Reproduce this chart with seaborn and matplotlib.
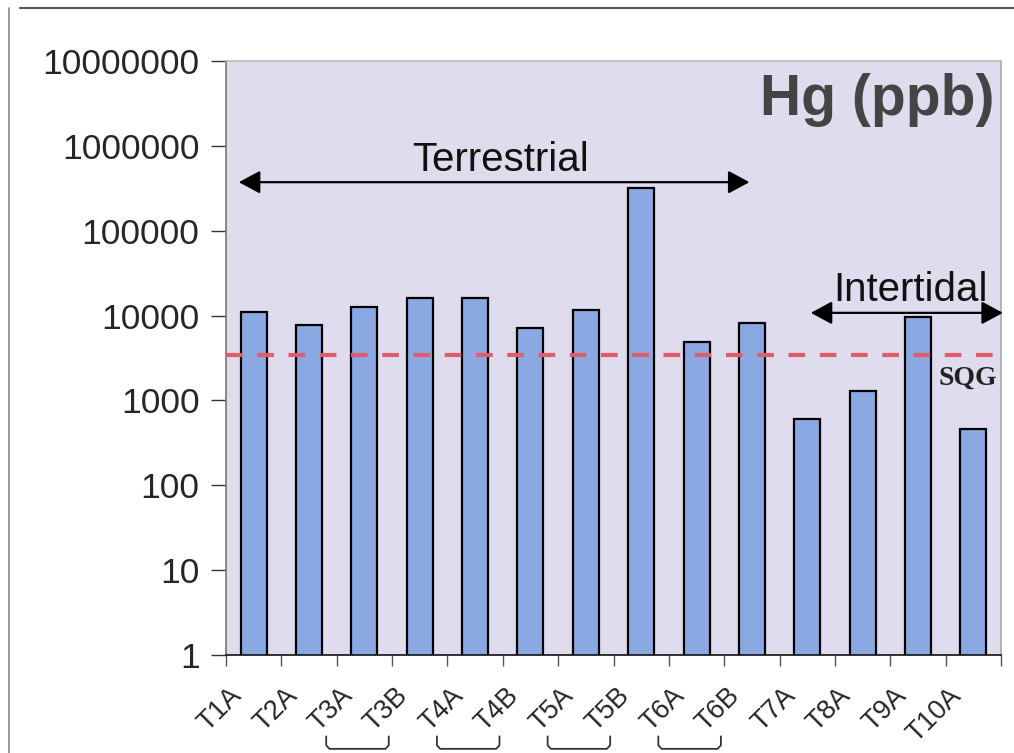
import numpy as np
import pandas as pd
import matplotlib
matplotlib.use("Agg")
import matplotlib.pyplot as plt
import seaborn as sns
from matplotlib.lines import Line2D
import matplotlib.transforms as mtransforms

# ---- data ----
sites = ["T1A", "T2A", "T3A", "T3B", "T4A", "T4B", "T5A", "T5B",
         "T6A", "T6B", "T7A", "T8A", "T9A", "T10A"]
hg_ppb = [11000, 7700, 12500, 16300, 16300, 7150, 11500, 320000,
          4850, 8200, 610, 1280, 9500, 455]
sqg_value = 3400
y_ticks = [1, 10, 100, 1000, 10000, 100000, 1000000, 10000000]
paired = [("T3A", "T3B"), ("T4A", "T4B"), ("T5A", "T5B"), ("T6A", "T6B")]

df = pd.DataFrame({"site": sites, "hg": hg_ppb})

sns.set_theme(style="white")
plt.rcParams["font.family"] = ["Liberation Sans", "DejaVu Sans"]

fig = plt.figure(figsize=(10.14, 7.53), dpi=100)
ax = fig.add_axes([226/1014, 1-655/753, 775/1014, 594/753])
ax.set_facecolor("#dedced")

sns.barplot(data=df, x="site", y="hg", ax=ax, color="#8aa9e3",
            width=0.47, edgecolor="black", linewidth=1.6, saturation=1)
for p in ax.patches:
    p.set_facecolor("#8aa9e3")
ax.set_yscale("log")
ax.set_ylim(1, 1e7)
ax.set_xlim(-0.5, len(sites) - 0.5)
ax.set_yticks(y_ticks)
ax.set_yticklabels([str(v) for v in y_ticks], fontsize=25.5)
ax.yaxis.set_minor_locator(matplotlib.ticker.NullLocator())
ax.tick_params(axis="y", which="major", left=True, length=11, width=1,
               color="#333333", pad=8)
ax.set_xlabel("")
ax.set_ylabel("")

# x ticks: boundary ticks + labels
ax.set_xticks(np.arange(len(sites)))
ax.set_xticklabels(sites, fontsize=19.5, rotation=45, ha="right",
                   rotation_mode="anchor", va="top")
ax.tick_params(axis="x", which="major", length=0, pad=20)
offset = mtransforms.ScaledTranslation(-25/100, 0, fig.dpi_scale_trans)
for lab in ax.get_xticklabels():
    lab.set_transform(lab.get_transform() + offset)
ax.set_xticks(np.arange(len(sites) + 1) - 0.5, minor=True)
ax.tick_params(axis="x", which="minor", bottom=True, length=8, width=1,
               color="#555555")

for side, col in [("left", "#777777"), ("bottom", "#111111"),
                  ("top", "#bbbbbb"), ("right", "#aaaaaa")]:
    ax.spines[side].set_color(col)
    ax.spines[side].set_linewidth(1.2)

# SQG line
ax.axhline(sqg_value, color="#e05c6a", linestyle=(0, (4, 3.5)), linewidth=3,
           zorder=3)
ax.text(0.957, 0.466, "SQG", transform=ax.transAxes, ha="center",
        va="center", fontsize=20, fontweight="bold",
        family=["Liberation Serif", "DejaVu Serif"], color="#222222")

# Title
ax.text(0.992, 0.934, "Hg (ppb)", transform=ax.transAxes, ha="right",
        va="center", fontsize=41, fontweight="bold", color="#444444")

# Arrows
arrow_kw = dict(arrowstyle="<|-|>,head_length=0.65,head_width=0.35",
                color="black", lw=1.6, mutation_scale=20)
ax.annotate("", xy=(0.013, 0.796), xytext=(0.679, 0.796),
            xycoords="axes fraction", textcoords="axes fraction",
            arrowprops=arrow_kw, annotation_clip=False)
ax.text(0.354, 0.833, "Terrestrial", transform=ax.transAxes, ha="center",
        va="center", fontsize=29, color="#111111")
ax.annotate("", xy=(0.751, 0.576), xytext=(1.006, 0.576),
            xycoords="axes fraction", textcoords="axes fraction",
            arrowprops=arrow_kw, annotation_clip=False)
ax.text(0.883, 0.614, "Intertidal", transform=ax.transAxes, ha="center",
        va="center", fontsize=29, color="#111111")

# brackets under paired labels
trans = mtransforms.blended_transform_factory(ax.transData, ax.transAxes)
for a, b in paired:
    i, j = sites.index(a), sites.index(b)
    x0, x1 = i - 0.69, j - 0.56
    yt, yb = -0.137, -0.158
    r = 0.06
    xs = [x0, x0, x0 + r, x1 - r, x1, x1]
    ys = [yt, yb + 0.006, yb, yb, yb + 0.006, yt]
    ax.plot(xs, ys, transform=trans, color="#333333", lw=1.3,
            clip_on=False, solid_joinstyle="round")

# scanned-page border lines
fig.add_artist(Line2D([0.02, 1.0], [1 - 8/753, 1 - 8/753],
                      transform=fig.transFigure, color="#555555", lw=1.5))
fig.add_artist(Line2D([9/1014, 9/1014], [0.0, 1 - 8/753],
                      transform=fig.transFigure, color="#888888", lw=1.2))

fig.savefig("out.png", dpi=100, facecolor="white")
